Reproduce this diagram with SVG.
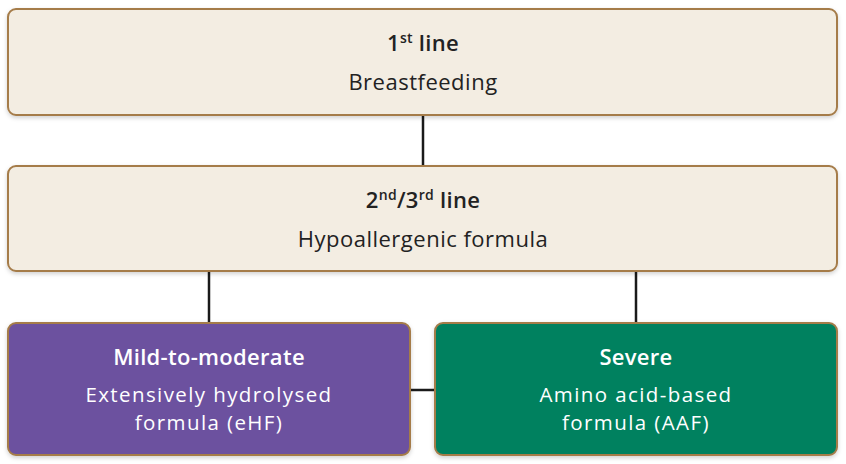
<svg xmlns="http://www.w3.org/2000/svg" width="846" height="464" viewBox="0 0 846 464">
<defs>
<style>
.box{stroke:#a57c4a;stroke-width:2}
.beige{fill:#f3ede2}
.purple{fill:#6c519f}
.green{fill:#00815f}
text{font-family:"Open Sans","Liberation Sans",sans-serif;font-size:22px;letter-spacing:0.5px;text-anchor:middle}
.t{font-weight:600;letter-spacing:0.3px}
.s{font-size:20.5px;letter-spacing:1.4px}
.dark{fill:#222}
.light{fill:#fff}
.conn{stroke:#1a1a1a;stroke-width:2.5;fill:none}
</style>
<filter id="sh" x="-5%" y="-10%" width="110%" height="130%">
<feDropShadow dx="0" dy="2" stdDeviation="2" flood-color="#000" flood-opacity="0.18"/>
</filter>
</defs>
<rect width="846" height="464" fill="#fff"/>
<g id="connectors">
<line class="conn" x1="423" y1="115" x2="423" y2="166"/>
<line class="conn" x1="209" y1="271" x2="209" y2="323"/>
<line class="conn" x1="636" y1="271" x2="636" y2="323"/>
<line class="conn" x1="410" y1="390" x2="435" y2="390"/>
</g>
<g id="first">
<rect class="box beige" x="8" y="9" width="829" height="106" rx="8" filter="url(#sh)"/>
<text class="t dark" x="423" y="51">1<tspan font-size="14" dy="-8">st</tspan><tspan dy="8"> line</tspan></text>
<text class="dark" x="423" y="90">Breastfeeding</text>
</g>
<g id="second">
<rect class="box beige" x="8" y="166" width="829" height="105" rx="8" filter="url(#sh)"/>
<text class="t dark" x="423" y="208">2<tspan font-size="14" dy="-8">nd</tspan><tspan dy="8">/3</tspan><tspan font-size="14" dy="-8">rd</tspan><tspan dy="8"> line</tspan></text>
<text class="dark" x="423" y="247">Hypoallergenic formula</text>
</g>
<g id="mild">
<rect class="box purple" x="8" y="323" width="402" height="132" rx="8" filter="url(#sh)"/>
<text class="t light" x="209" y="365">Mild-to-moderate</text>
<text class="s light" x="209" y="402">Extensively hydrolysed</text>
<text class="s light" x="209" y="430">formula (eHF)</text>
</g>
<g id="severe">
<rect class="box green" x="435" y="323" width="402" height="132" rx="8" filter="url(#sh)"/>
<text class="t light" x="636" y="365">Severe</text>
<text class="s light" x="636" y="402">Amino acid-based</text>
<text class="s light" x="636" y="430">formula (AAF)</text>
</g>
</svg>
